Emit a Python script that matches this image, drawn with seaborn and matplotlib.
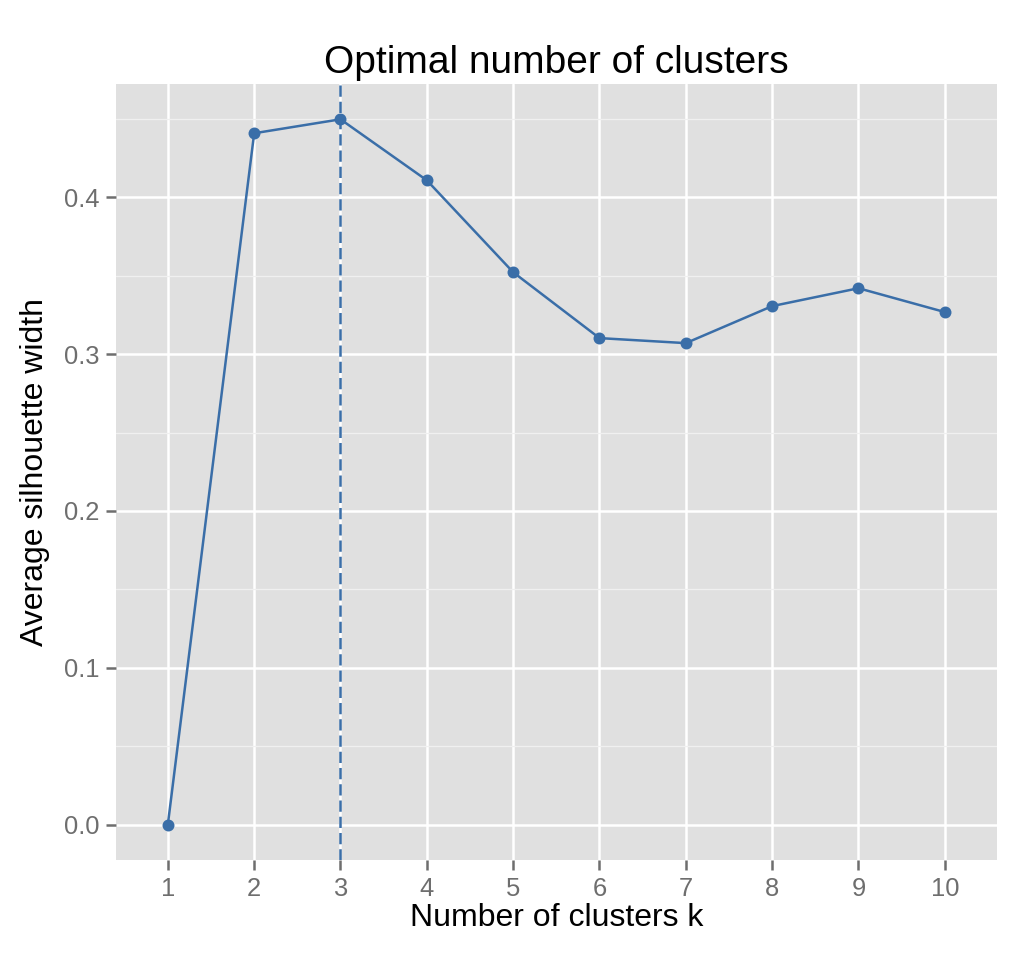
import matplotlib
matplotlib.use("Agg")
import matplotlib.pyplot as plt
import seaborn as sns
import pandas as pd
from matplotlib.ticker import MultipleLocator

# values
k_values = [1, 2, 3, 4, 5, 6, 7, 8, 9, 10]
silhouette = [0.0, 0.4408, 0.4497, 0.4108, 0.3522, 0.3102, 0.3070, 0.3306, 0.3420, 0.3268]
best_k = 3

df = pd.DataFrame({"k": k_values, "width": silhouette})

line_col = "#3A6EA8"

sns.set_theme(style="darkgrid", rc={
    "axes.facecolor": "#E0E0E0",
    "grid.color": "white",
    "axes.edgecolor": "none",
})
plt.rcParams["font.family"] = ["Liberation Sans", "DejaVu Sans"]

fig = plt.figure(figsize=(5.18, 4.8), dpi=200)
ax = fig.add_axes([0.112, 0.1042, 0.850, 0.8083])

sns.lineplot(data=df, x="k", y="width", color=line_col, linewidth=0.9,
             marker="o", markersize=4.3, markeredgewidth=0, ax=ax, zorder=3)
ax.axvline(best_k, color=line_col, linestyle="--", linewidth=0.9, dashes=(4.5, 2.0), zorder=2)

ax.set_xlim(0.4, 10.6)
ax.set_ylim(-0.0225, 0.4722)
ax.set_xticks(k_values)
ax.set_xticklabels([str(k) for k in k_values])
ax.yaxis.set_major_locator(MultipleLocator(0.1))
ax.yaxis.set_minor_locator(MultipleLocator(0.05))
ax.yaxis.set_major_formatter(matplotlib.ticker.FormatStrFormatter("%.1f"))

ax.grid(which="major", color="white", linewidth=0.9)
ax.grid(which="minor", axis="y", color="#F0F0F0", linewidth=0.45)
ax.tick_params(which="major", length=3.5, width=0.9, color="#6E6E6E",
               labelsize=9.2, labelcolor="#6E6E6E", pad=2.5, bottom=True, left=True)
ax.tick_params(which="minor", length=0)

ax.set_xlabel("Number of clusters k", fontsize=11.5, color="black", labelpad=1)
ax.set_ylabel("Average silhouette width", fontsize=11.5, color="black", labelpad=5)
ax.set_title("Optimal number of clusters", fontsize=14, color="black", pad=4)

fig.savefig("out.png", dpi=200)
